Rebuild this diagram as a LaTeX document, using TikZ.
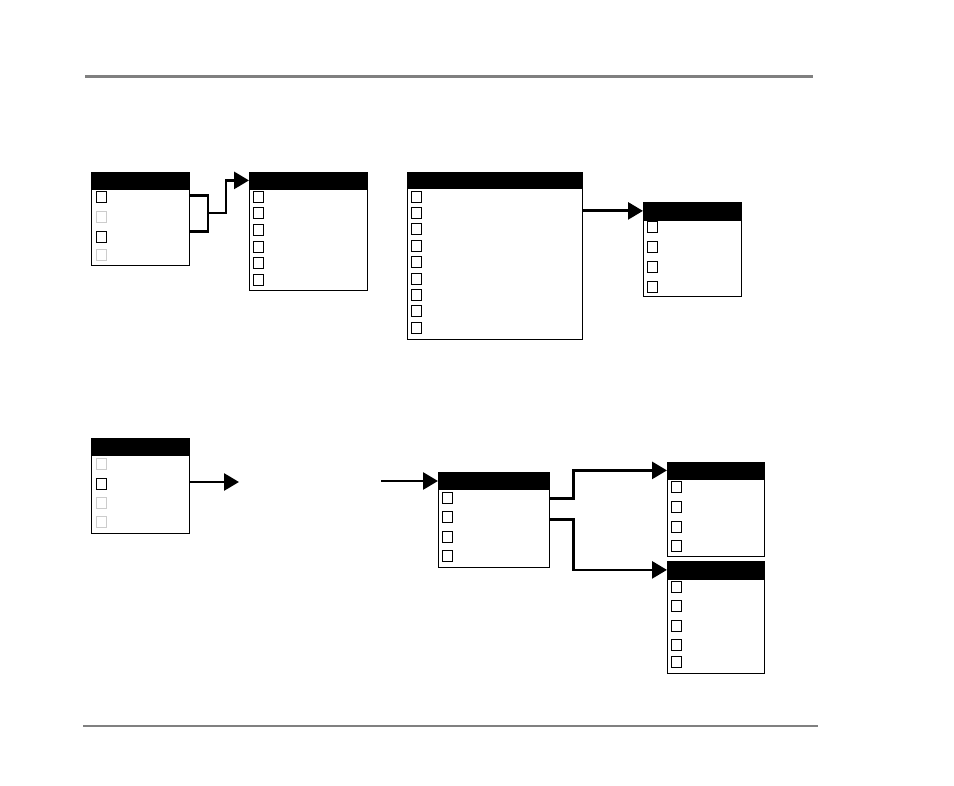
\documentclass[tikz,border=0pt]{standalone}
\usepackage{tikz}
\usetikzlibrary{positioning,arrows.meta}
\definecolor{RuleGray}{HTML}{808080}
\definecolor{TickOff}{HTML}{CCCCCC}

\begin{document}
\begin{tikzpicture}[
  x=1pt, y=-1pt,
  node distance=0pt,
  head/.style={rectangle, draw=black, fill=black, anchor=north west,
               inner sep=0pt, minimum height=16pt, line width=0.8pt},
  body/.style={rectangle, draw=black, fill=white, inner sep=0pt, line width=0.8pt},
  tick/.style={rectangle, draw=#1, fill=white, inner sep=0pt,
               minimum width=10pt, minimum height=11pt, line width=0.9pt},
  tick/.default=black,
  link/.style={line width=2.8pt, color=black},
  arr/.style={-{Triangle[length=15pt, width=17pt]}, line width=2.8pt, color=black},
  rule/.style={line width=2.6pt, color=RuleGray},
]
  \useasboundingbox (0,0) rectangle (954,786);

  % Page rules
  \draw[rule] (85,76.5) -- (813,76.5);
  \draw[rule, line width=2pt] (83,726) -- (818,726);

  % Upper row
  \node[head, minimum width=98pt] (aH) at (91,172) {};
  \node[body, minimum width=98pt, minimum height=76pt, below=of aH] (aB) {};
  \foreach \y/\c [count=\i] in {197/black, 216.5/TickOff, 236.5/black, 255/TickOff}
    \node[tick=\c] (a\i) at (101,\y) {};

  \node[head, minimum width=118pt] (bH) at (249,172) {};
  \node[body, minimum width=118pt, minimum height=101pt, below=of bH] (bB) {};
  \foreach \y [count=\i] in {196.5, 213, 230, 246.5, 263, 280}
    \node[tick] (b\i) at (258,\y) {};

  \node[head, minimum width=175pt, minimum height=15pt] (cH) at (407,172) {};
  \node[body, minimum width=175pt, minimum height=151pt, below=of cH] (cB) {};
  \foreach \y [count=\i] in {196.5, 212.9, 229.3, 245.7, 262.1, 278.5, 294.9, 311.3, 327.7}
    \node[tick] (c\i) at (416,\y) {};

  \node[head, minimum width=98pt, minimum height=17pt] (dH) at (643,202) {};
  \node[body, minimum width=98pt, minimum height=76pt, below=of dH] (dB) {};
  \foreach \y [count=\i] in {227, 247, 267, 287}
    \node[tick] (d\i) at (652,\y) {};

  % Lower row
  \node[head, minimum width=98pt] (eH) at (91,438) {};
  \node[body, minimum width=98pt, minimum height=78pt, below=of eH] (eB) {};
  \foreach \y/\c [count=\i] in {463.5/TickOff, 483.5/black, 503/TickOff, 522/TickOff}
    \node[tick=\c] (e\i) at (101,\y) {};

  \node[head, minimum width=111pt] (fH) at (438,472) {};
  \node[body, minimum width=111pt, minimum height=78pt, below=of fH] (fB) {};
  \foreach \y [count=\i] in {497.5, 517, 537, 556}
    \node[tick] (f\i) at (447,\y) {};

  \node[head, minimum width=97pt] (gH) at (667,462) {};
  \node[body, minimum width=97pt, minimum height=77pt, below=of gH] (gB) {};
  \foreach \y [count=\i] in {487, 507, 526.5, 546}
    \node[tick] (g\i) at (676.5,\y) {};

  \node[head, minimum width=97pt, minimum height=17pt] (hH) at (667,561) {};
  \node[body, minimum width=97pt, minimum height=94pt, below=of hH] (hB) {};
  \foreach \y [count=\i] in {587, 606, 626, 645, 662}
    \node[tick] (h\i) at (676,\y) {};

  % Connectors
  \coordinate (jA) at (208,213);
  \draw[link] ([yshift=-7pt]aB.north east) -| (jA) |- ([yshift=-43pt]aB.north east);
  \draw[arr] (jA) -- (226,213) |- (bH.west);

  \draw[arr] (cB.east |- dH.west) -- (dH.west);

  \coordinate (eEnd) at (239,482);
  \coordinate (fStart) at (381,481);
  \draw[arr] (eB.east |- eEnd) -- (eEnd);
  \draw[arr] (fStart) -- (fStart -| fH.west);

  \draw[arr] ([yshift=-10pt]fB.north east) -- ++(24,0) |- (gH.west);
  \draw[arr] ([yshift=-31pt]fB.north east) -- ++(24,0) |- (hH.west);
\end{tikzpicture}
\end{document}
